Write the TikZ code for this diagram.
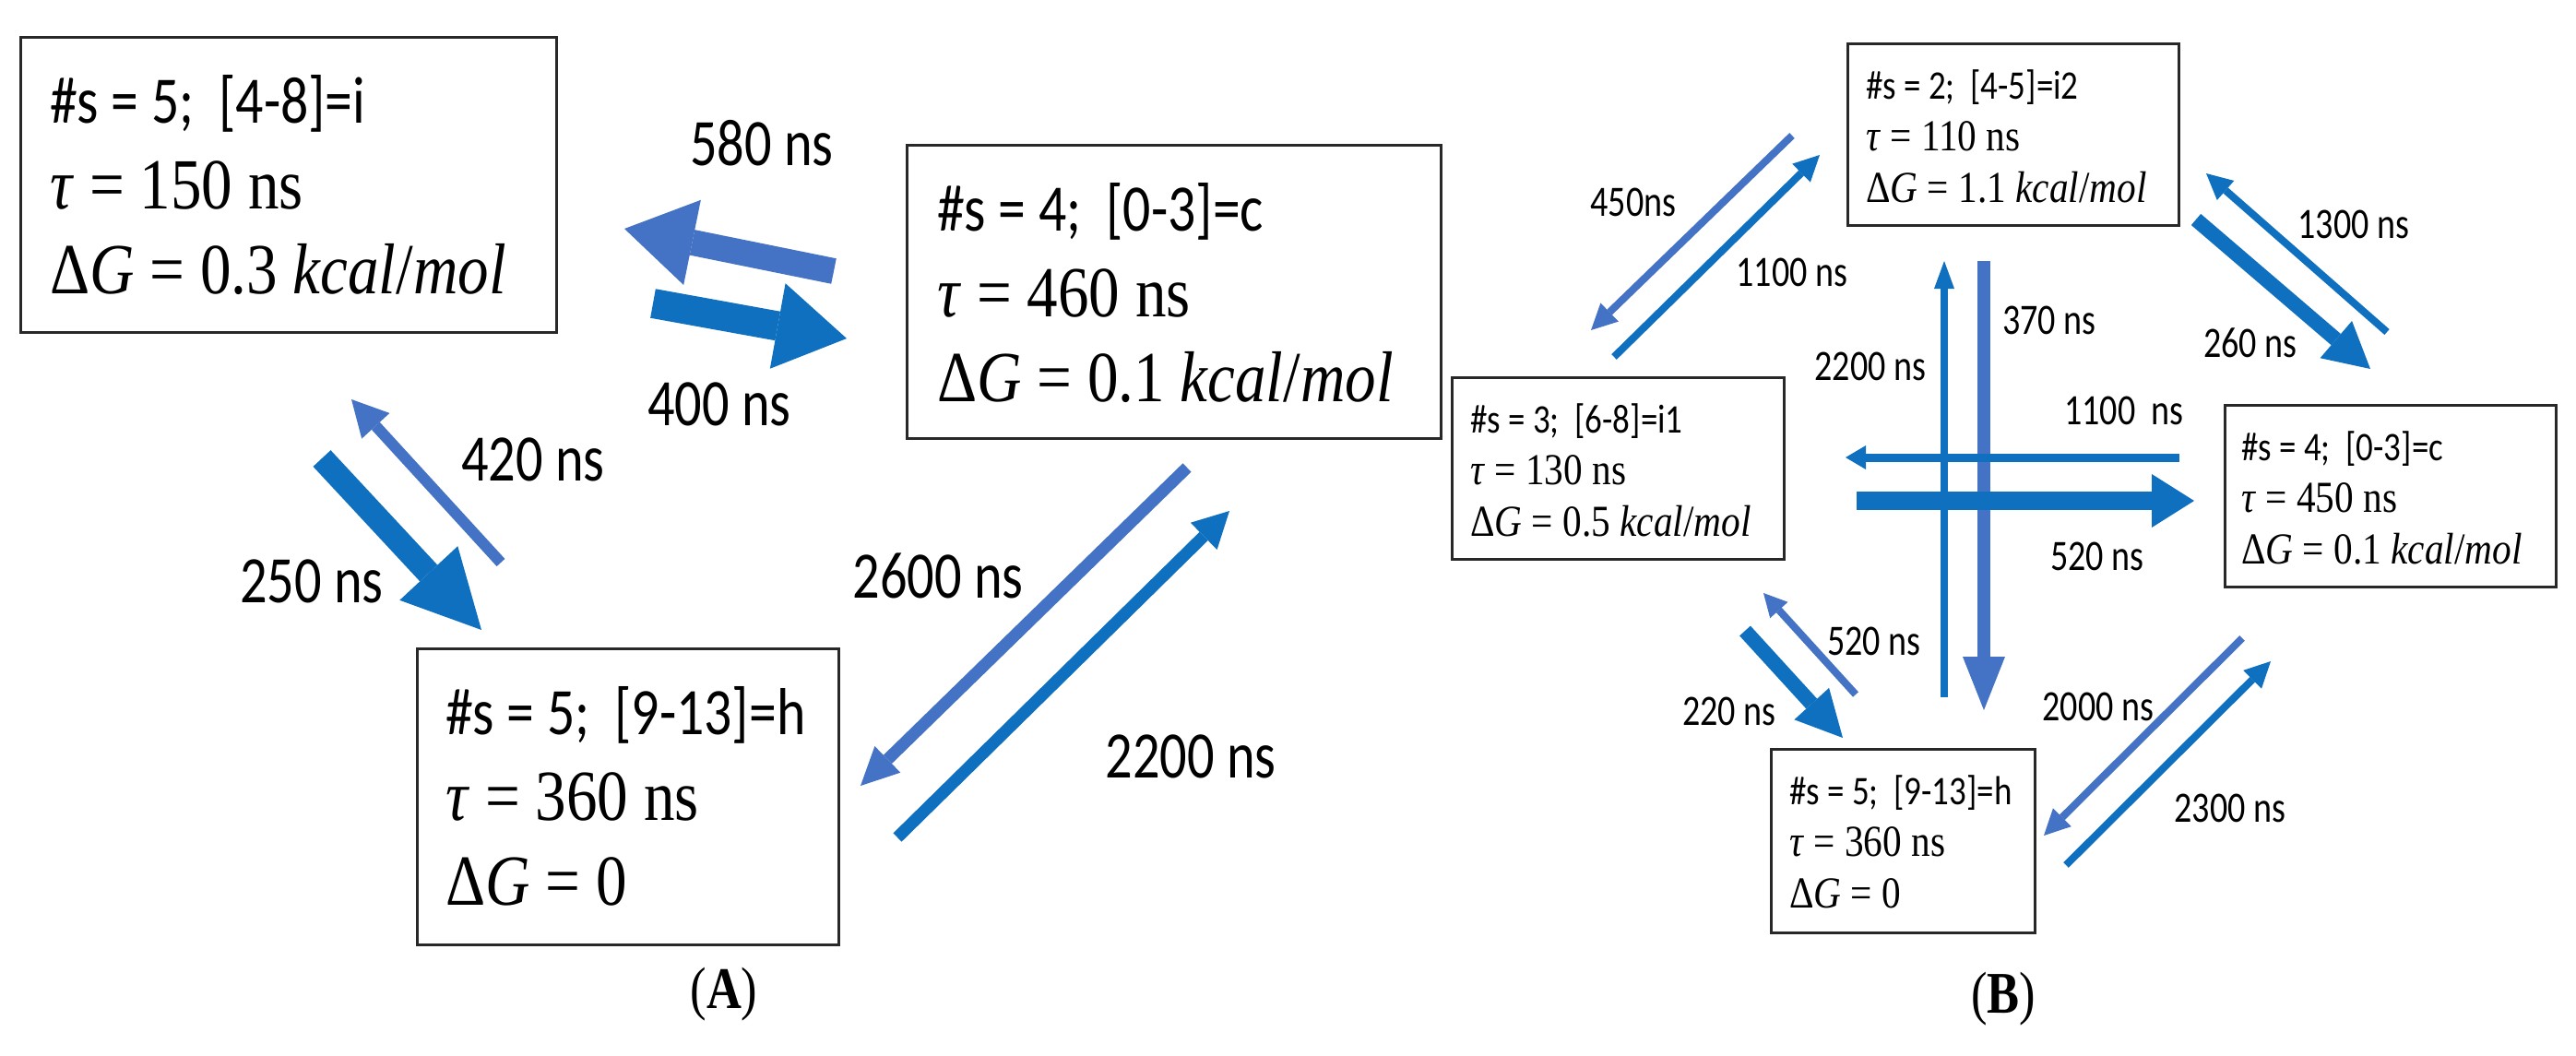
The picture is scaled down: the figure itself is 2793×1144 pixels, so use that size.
\documentclass[tikz,border=0pt]{standalone}
\usepackage{fontspec}
\usetikzlibrary{arrows.meta}
\newfontfamily\calF[FakeStretch=0.83]{Carlito}
\newfontfamily\calG[FakeStretch=0.84]{Carlito}
\newfontfamily\serF[FakeStretch=0.86]{Liberation Serif}
\newfontfamily\labF[FakeStretch=0.81]{Carlito}
\newfontfamily\panF[FakeStretch=0.82]{Liberation Serif}
\definecolor{dblue}{RGB}{16,112,192}
\definecolor{lblue}{RGB}{68,114,196}
\definecolor{boxc}{RGB}{40,40,40}
\tikzset{
  box/.style={draw=boxc, line width=3pt, inner sep=0pt, rectangle},
  calA/.style={anchor=base west, inner sep=0pt, font=\calF\fontsize{72}{80}\selectfont},
  serA/.style={anchor=base west, inner sep=0pt, font=\serF\fontsize{78}{90}\selectfont},
  calB/.style={anchor=base west, inner sep=0pt, font=\calG\fontsize{44}{50}\selectfont},
  serB/.style={anchor=base west, inner sep=0pt, font=\serF\fontsize{48}{56}\selectfont},
  labA/.style={inner sep=0pt, font=\labF\fontsize{72}{80}\selectfont},
  labB/.style={inner sep=0pt, font=\labF\fontsize{47}{55}\selectfont},
  panel/.style={inner sep=0pt, font=\panF\fontsize{64}{70}\selectfont},
  rarrow/.style n args={4}{draw=#1, line width=#2,
    -{Triangle[length=#4, width=#3, line width=0pt]}},
}
\begin{document}
\begin{tikzpicture}[x=1pt, y=-1pt]
\useasboundingbox (0,0) rectangle (2793,1144);

% ---------------- Panel A boxes ----------------
\node[box, minimum width=581pt, minimum height=320pt] (A1) at (312.5,200) {};
\node[calA] (A1a) at (54,133) {\#s = 5;\ \ [4-8]=i};
\node[serA] (A1b) at (54,226) {\textit{τ} = 150 ns};
\node[serA] (A1c) at (54,318) {Δ\textit{G} = 0.3 \textit{kcal}/\textit{mol}};

\node[box, minimum width=579pt, minimum height=318pt] (A2) at (1272.5,316) {};
\node[calA] (A2a) at (1016,250) {\#s = 4;\ \ [0-3]=c};
\node[serA] (A2b) at (1016,343) {\textit{τ} = 460 ns};
\node[serA] (A2c) at (1016,435) {Δ\textit{G} = 0.1 \textit{kcal}/\textit{mol}};

\node[box, minimum width=457pt, minimum height=321pt] (A3) at (680.5,863.5) {};
\node[calA] (A3a) at (483,796) {\#s = 5;\ \ [9-13]=h};
\node[serA] (A3b) at (483,889) {\textit{τ} = 360 ns};
\node[serA] (A3c) at (483,981) {Δ\textit{G} = 0};

% ---------------- Panel A arrows ----------------
\coordinate (a580t) at (904,294);  \coordinate (a580h) at (677,248);
\coordinate (a400t) at (708,329);  \coordinate (a400h) at (918,367);
\coordinate (a250t) at (349,497);  \coordinate (a250h) at (522,683);
\coordinate (a420t) at (543,610);  \coordinate (a420h) at (381,433);
\coordinate (a2600t) at (1287,507); \coordinate (a2600h) at (933,852);
\coordinate (a2200t) at (973,908);  \coordinate (a2200h) at (1333,554);

\draw[rarrow={lblue}{28pt}{94pt}{75pt}] (a580t) -- (a580h);
\draw[rarrow={dblue}{32pt}{94pt}{76pt}] (a400t) -- (a400h);
\draw[rarrow={dblue}{26pt}{86pt}{84pt}] (a250t) -- (a250h);
\draw[rarrow={lblue}{12pt}{41pt}{39pt}] (a420t) -- (a420h);
\draw[rarrow={lblue}{13pt}{40pt}{41pt}] (a2600t) -- (a2600h);
\draw[rarrow={dblue}{13pt}{41pt}{39pt}] (a2200t) -- (a2200h);

\node[labA] (l580) at (826,155) {580 ns};
\node[labA] (l400) at (780,438) {400 ns};
\node[labA] (l420) at (578,498) {420 ns};
\node[labA] (l250) at (338,630) {250 ns};
\node[labA] (l2600) at (1017,624) {2600 ns};
\node[labA] (l2200) at (1291,820) {2200 ns};

\node[panel] (pA) at (785,1078) {(\textbf{A})};

% ---------------- Panel B boxes ----------------
\node[box, minimum width=359pt, minimum height=197pt] (Bi2) at (2182.5,145.5) {};
\node[calB] (Bi2a) at (2023,107) {\#s = 2;\ \ [4-5]=i2};
\node[serB] (Bi2b) at (2023,163) {\textit{τ} = 110 ns};
\node[serB] (Bi2c) at (2023,219) {Δ\textit{G} = 1.1 \textit{kcal}/\textit{mol}};

\node[box, minimum width=360pt, minimum height=197pt] (Bi1) at (1754,507.5) {};
\node[calB] (Bi1a) at (1594,469) {\#s = 3;\ \ [6-8]=i1};
\node[serB] (Bi1b) at (1594,525) {\textit{τ} = 130 ns};
\node[serB] (Bi1c) at (1594,581) {Δ\textit{G} = 0.5 \textit{kcal}/\textit{mol}};

\node[box, minimum width=359pt, minimum height=197pt] (Bc) at (2591.5,537.5) {};
\node[calB] (Bca) at (2430,499) {\#s = 4;\ \ [0-3]=c};
\node[serB] (Bcb) at (2430,555) {\textit{τ} = 450 ns};
\node[serB] (Bcc) at (2430,611) {Δ\textit{G} = 0.1 \textit{kcal}/\textit{mol}};

\node[box, minimum width=286pt, minimum height=199pt] (Bh) at (2063,911.5) {};
\node[calB] (Bha) at (1940,872) {\#s = 5;\ \ [9-13]=h};
\node[serB] (Bhb) at (1940,928) {\textit{τ} = 360 ns};
\node[serB] (Bhc) at (1940,984) {Δ\textit{G} = 0};

% ---------------- Panel B arrows ----------------
\coordinate (b450t) at (1943,147);  \coordinate (b450h) at (1725,358);
\coordinate (b1100t) at (1750,387); \coordinate (b1100h) at (1973,168);
\coordinate (b1300t) at (2588,360); \coordinate (b1300h) at (2392,188);
\coordinate (b260t) at (2381,238);  \coordinate (b260h) at (2570,400);
\coordinate (b2200t) at (2108,756); \coordinate (b2200h) at (2108,283);
\coordinate (b370t) at (2151,283);  \coordinate (b370h) at (2151,770);
\coordinate (bh1100t) at (2363,496); \coordinate (bh1100h) at (2001,496);
\coordinate (bh520t) at (2013,543);  \coordinate (bh520h) at (2379,543);
\coordinate (b220t) at (1892,684);  \coordinate (b220h) at (1998,800);
\coordinate (b520t) at (2012,753);  \coordinate (b520h) at (1912,643);
\coordinate (b2000t) at (2431,692); \coordinate (b2000h) at (2216,906);
\coordinate (b2300t) at (2240,938); \coordinate (b2300h) at (2462,717);

\draw[rarrow={lblue}{8pt}{28pt}{28pt}] (b450t) -- (b450h);
\draw[rarrow={dblue}{8pt}{28pt}{28pt}] (b1100t) -- (b1100h);
\draw[rarrow={dblue}{8pt}{28pt}{28pt}] (b1300t) -- (b1300h);
\draw[rarrow={dblue}{16pt}{53pt}{49pt}] (b260t) -- (b260h);
\draw[rarrow={dblue}{8pt}{22pt}{30pt}] (b2200t) -- (b2200h);
\draw[rarrow={lblue}{14pt}{46pt}{58pt}] (b370t) -- (b370h);
\draw[rarrow={dblue}{9pt}{26pt}{22pt}] (bh1100t) -- (bh1100h);
\draw[rarrow={dblue}{20pt}{58pt}{46pt}] (bh520t) -- (bh520h);
\draw[rarrow={dblue}{16pt}{51pt}{50pt}] (b220t) -- (b220h);
\draw[rarrow={lblue}{8pt}{26pt}{25pt}] (b520t) -- (b520h);
\draw[rarrow={lblue}{8pt}{28pt}{28pt}] (b2000t) -- (b2000h);
\draw[rarrow={dblue}{8pt}{28pt}{28pt}] (b2300t) -- (b2300h);

\node[labB] (m450) at (1771,219) {450ns};
\node[labB] (m1100) at (1943,295) {1100 ns};
\node[labB] (m1300) at (2552,243) {1300 ns};
\node[labB] (m260) at (2440,372) {260 ns};
\node[labB] (m2200) at (2028,397) {2200 ns};
\node[labB] (m370) at (2222,347) {370 ns};
\node[labB] (mh1100) at (2303,445) {1100\ \ ns};
\node[labB] (mh520) at (2274,603) {520 ns};
\node[labB] (m520) at (2032,695) {520 ns};
\node[labB] (m220) at (1875,771) {220 ns};
\node[labB] (m2000) at (2275,766) {2000 ns};
\node[labB] (m2300) at (2418,876) {2300 ns};

\node[panel] (pB) at (2172,1083) {(\textbf{B})};
\end{tikzpicture}
\end{document}
